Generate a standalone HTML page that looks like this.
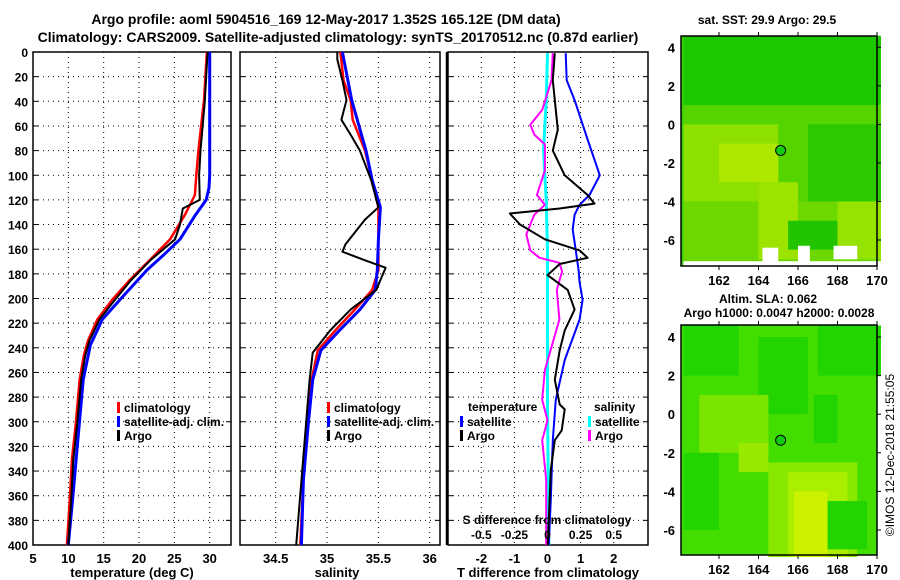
<!DOCTYPE html>
<html><head><meta charset="utf-8"><style>
body{margin:0;background:#fff;}
svg{display:block;font-family:"Liberation Sans",sans-serif;font-weight:bold;}
</style></head><body>
<svg id="c" width="900" height="580" viewBox="0 0 900 580" xmlns="http://www.w3.org/2000/svg">
<text x="326" y="24" font-size="14" text-anchor="middle">Argo profile: aoml 5904516_169 12-May-2017 1.352S 165.12E (DM data)</text>
<text x="338" y="42" font-size="14" text-anchor="middle">Climatology: CARS2009. Satellite-adjusted climatology: synTS_20170512.nc (0.87d earlier)</text>
<g id="p1"></g>
<g id="p2"></g>
<g id="p3"></g>
<g id="m1"></g>
<g id="m2"></g>
<text x="767" y="24" font-size="12" text-anchor="middle">sat. SST: 29.9 Argo: 29.5</text>
<text x="768" y="303" font-size="12" text-anchor="middle">Altim. SLA: 0.062</text>
<text x="779" y="317" font-size="12" text-anchor="middle">Argo h1000: 0.0047 h2000: 0.0028</text>
<text transform="translate(894,455) rotate(-90)" font-size="12" font-weight="normal" text-anchor="middle">©IMOS 12-Dec-2018 21:55:05</text>
</svg>
<script>
// ---- data ----
const depthTicks=[0,20,40,60,80,100,120,140,160,180,200,220,240,260,280,300,320,340,360,380,400];
const tempTicks=[5,10,15,20,25,30];
const salTicks=[34.5,35,35.5,36];
const tdiffTicks=[-2,-1,0,1,2];
const sdiffTicks=[-0.5,-0.25,0,0.25,0.5];
const sdiffTickLabels=["-0.5","-0.25","0","0.25","0.5"];

const climTDepth=[0,39,80,100,116,132,152,169,185,201,217,234,246,266,299,331,363,400];
const climT=[29.6,29.2,28.4,28.1,27.9,26.5,24.4,21.5,18.7,16.2,14.1,12.8,12.2,11.6,11.1,10.5,10.2,9.8];
const satTDepth=[0,60,100,110,120,132,152,165,177,201,217,238,266,299,363,400];
const satT=[30.0,30.0,30.0,29.9,29.5,28.0,25.8,23.4,21.1,17.3,14.8,13.1,12.1,11.6,10.6,10.0];
const argoTDepth=[0,40,80,100,120,127,140,152,169,185,201,217,234,246,266,299,331,363,400];
const argoT=[29.7,29.3,28.7,28.5,28.6,26.2,25.8,25.1,21.6,18.9,16.6,14.4,13.0,12.4,11.8,11.3,10.7,10.4,10.0];

const climSDepth=[0,23,39,55,80,104,126,152,177,193,209,226,242,266,299,347,400];
const climS=[35.13,35.16,35.23,35.25,35.37,35.44,35.50,35.50,35.50,35.44,35.27,35.08,34.91,34.85,34.81,34.77,34.74];
const satSDepth=[0,39,80,104,126,152,177,193,209,226,242,266,299,347,400];
const satS=[35.15,35.24,35.38,35.44,35.52,35.50,35.49,35.47,35.32,35.12,34.94,34.86,34.82,34.77,34.75];
const argoSDepth=[0,6,23,39,55,67,80,104,126,136,156,162,169,175,181,193,209,226,244,266,400];
const argoS=[35.10,35.10,35.15,35.19,35.14,35.23,35.32,35.43,35.50,35.37,35.18,35.15,35.37,35.57,35.54,35.48,35.23,35.03,34.86,34.83,34.70];

const satDTDepth=[1,23,39,71,100,116,124,132,144,160,177,187,201,217,250,282,315,363,400];
const satDT=[0.55,0.58,0.82,1.21,1.58,1.27,0.97,0.82,0.76,0.85,0.94,0.97,1.06,0.97,0.52,0.25,0.16,0.10,0.04];
const argoDTDepth=[1,23,39,63,80,100,116,123,127,131,140,152,161,167,172,181,193,209,226,242,266,286,290,307,315,339,400];
const argoDT=[0.22,0.16,0.22,0.31,0.16,0.52,1.21,1.42,0.37,-1.14,-0.83,-0.08,0.97,1.21,0.37,0.0,0.61,0.82,0.52,0.37,0.22,0.37,0.52,0.43,0.22,0.10,0.01];
const argoDSDepth=[1,23,47,59,67,75,96,116,124,132,148,161,167,171,178,193,217,258,282,299,315,347,400];
const argoDS=[0.04,0.03,-0.04,-0.13,-0.10,-0.02,-0.02,-0.08,-0.02,-0.10,-0.16,-0.13,-0.06,0.09,0.11,0.07,0.09,-0.02,-0.04,0.0,-0.04,-0.01,-0.01];
const satDSDepth=[1,39,80,120,160,201,282,400];
const satDS=[0.0,-0.01,-0.03,-0.01,0.0,0.0,0.0,0.01];

const lonTicks=[162,164,166,168,170];
const latTicks=[4,2,0,-2,-4,-6];

// ---- helpers ----
const NS="http://www.w3.org/2000/svg";
function mk(tag,attrs,parent){const e=document.createElementNS(NS,tag);for(const k in attrs)e.setAttribute(k,attrs[k]);parent.appendChild(e);return e;}
const Y0=52,Y1=545;
const yD=d=>Y0+(d/400)*(Y1-Y0);
function lin(v0,p0,v1,p1){return v=>p0+(v-v0)*(p1-p0)/(v1-v0);}
const xT=lin(5,33,30,209.7);
const xS=lin(34.5,275.7,36,429.7);
const xDT=lin(-2,481.3,2,613.7);
const xDS=lin(-0.5,481.3,0.5,613.7);

function frame(g,x0,x1,xs,labels,showY,name){
  depthTicks.forEach(d=>{if(d>0&&d<400){const l=mk('line',{x1:x0,x2:x1,y1:yD(d),y2:yD(d),stroke:'#000','stroke-dasharray':'1 4','stroke-width':1},g);
  
  
  mk('line',{x1:x0,x2:x0+5,y1:yD(d),y2:yD(d),stroke:'#000'},g);mk('line',{x1:x1-5,x2:x1,y1:yD(d),y2:yD(d),stroke:'#000'},g);}});
  xs.forEach(x=>{if(x>x0+1&&x<x1-1){const l=mk('line',{x1:x,x2:x,y1:Y0,y2:Y1,stroke:'#000','stroke-dasharray':'1 4'},g);
  
  }});
  const r=mk('rect',{x:x0,y:Y0,width:x1-x0,height:Y1-Y0,fill:'none',stroke:'#000','stroke-width':1.5},g);
  
  
  if(labels){xs.forEach((x,i)=>{const t=mk('text',{x:x,y:563,'font-size':13,'text-anchor':'middle'},g);t.textContent=labels[i];
  
  });}
  if(showY){depthTicks.forEach(d=>{const t=mk('text',{x:28,y:yD(d)+5,'font-size':12,'text-anchor':'end'},g);t.textContent=d;
  
  });}
}
function series(g,vals,deps,xf,color,w,name){
  const pts=vals.map((v,i)=>xf(v).toFixed(1)+','+yD(deps[i]).toFixed(1)).join(' ');
  const p=mk('polyline',{points:pts,fill:'none',stroke:color,'stroke-width':w,'stroke-linejoin':'round'},g);
  
  
}
function legend(g,x,y,color,label,name){
  mk('rect',{x:x,y:y-10,width:3,height:11,fill:color},g);
  const t=mk('text',{x:x+7,y:y,'font-size':12},g);t.textContent=label;
  
  
}
function txt(g,x,y,s,anchor,size,name){const t=mk('text',{x:x,y:y,'font-size':size||12,'text-anchor':anchor||'start'},g);t.textContent=s;
  
  return t;}

// panel 1
const p1=document.getElementById('p1');
frame(p1,33,231,tempTicks.map(xT),tempTicks,true,'temperature');
series(p1,climT,climTDepth,xT,'#f00',2.5,'climatology-temperature-line');
series(p1,satT,satTDepth,xT,'#00f',3,'satellite-temperature-line');
series(p1,argoT,argoTDepth,xT,'#000',2,'argo-temperature-line');
legend(p1,117,412,'#f00','climatology','legend-climatology');
legend(p1,117,426,'#00f','satellite-adj. clim.','legend-satellite');
legend(p1,117,440,'#000','Argo','legend-argo');
txt(p1,132,577,'temperature (deg C)','middle',13,'x-axis-title-temperature');

// panel 2
const p2=document.getElementById('p2');
frame(p2,240,440,salTicks.map(xS),salTicks,false,'salinity');
series(p2,climS,climSDepth,xS,'#f00',2.5,'climatology-salinity-line');
series(p2,satS,satSDepth,xS,'#00f',3,'satellite-salinity-line');
series(p2,argoS,argoSDepth,xS,'#000',2,'argo-salinity-line');
legend(p2,327,412,'#f00','climatology','legend-climatology-sal');
legend(p2,327,426,'#00f','satellite-adj. clim.','legend-satellite-sal');
legend(p2,327,440,'#000','Argo','legend-argo-sal');
txt(p2,337,577,'salinity','middle',13,'x-axis-title-salinity');

// panel 3
const p3=document.getElementById('p3');
frame(p3,448,648,tdiffTicks.map(xDT),tdiffTicks,false,'difference');
mk('line',{x1:447,x2:447,y1:Y0,y2:Y1,stroke:'#000','stroke-width':2.5},p3);
series(p3,satDS,satDSDepth,xDS,'#0ff',3,'satellite-salinity-diff-line');
series(p3,argoDS,argoDSDepth,xDS,'#f0f',2,'argo-salinity-diff-line');
series(p3,satDT,satDTDepth,xDT,'#00f',2,'satellite-temperature-diff-line');
series(p3,argoDT,argoDTDepth,xDT,'#000',2,'argo-temperature-diff-line');
txt(p3,468,411,'temperature','start',12,'legend-temperature-heading');
legend(p3,460,426,'#00f','satellite','legend-temp-satellite');
legend(p3,460,440,'#000','Argo','legend-temp-argo');
txt(p3,594,411,'salinity','start',12,'legend-salinity-heading');
legend(p3,588,426,'#0ff','satellite','legend-sal-satellite');
legend(p3,588,440,'#f0f','Argo','legend-sal-argo');
txt(p3,547,524,'S difference from climatology','middle',12,'s-axis-title');
sdiffTicks.forEach((v,i)=>{txt(p3,xDS(v),539,sdiffTickLabels[i],'middle',12,'s-tick-label');});
txt(p3,548,577,'T difference from climatology','middle',13,'x-axis-title-difference');

// maps
function mapFrame(g,x0,y0,x1,y1,lat4,latm6,base,blobs,name){
  const xl=lin(162,719,170,877), yl=lin(4,lat4,-6,latm6);
  mk('rect',{x:x0,y:y0,width:x1-x0,height:y1-y0,fill:base},g);
  blobs.forEach(b=>mk('rect',{x:xl(b[0]),y:yl(b[3]),width:xl(b[1])-xl(b[0]),height:yl(b[2])-yl(b[3]),fill:b[4]},g));
  const r=mk('rect',{x:x0,y:y0,width:x1-x0,height:y1-y0,fill:'none',stroke:'#000','stroke-width':1.5},g);
  
  
  lonTicks.forEach(l=>{mk('line',{x1:xl(l),x2:xl(l),y1:y0-4,y2:y0,stroke:'#000'},g);mk('line',{x1:xl(l),x2:xl(l),y1:y1,y2:y1+4,stroke:'#000'},g);
    txt(g,xl(l),y1+19,String(l),'middle',13,'lon-tick-label');});
  latTicks.forEach(l=>{mk('line',{x1:x1,x2:x1+4,y1:yl(l),y2:yl(l),stroke:'#000'},g);
    txt(g,x0-6,yl(l)+5,String(l),'end',13,'lat-tick-label');});
  const c=mk('circle',{cx:xl(165.12),cy:yl(-1.352),r:5,fill:'#11cc11',stroke:'#000','stroke-width':1},g);
  
  
}
mapFrame(document.getElementById('m1'),681,36,877,266,47.3,240,'#3ccf00',[
 [160.2,170.2,1,4.6,'#1ec800'],[160.2,170.2,-4,1,'#55d400'],[160.2,165,-4,0,'#8ee000'],[162,165,-3,-1,'#aee800'],
 [166.5,170.2,-4,0,'#2cc800'],[160.2,170.2,-7.4,-4,'#6cd800'],[164,166,-7,-3,'#9ce400'],[168,170.2,-7,-4,'#96e200'],
 [165.5,168,-6.5,-5,'#22c400'],
 [164.2,165,-7.4,-6.4,'#fff'],[166,166.6,-7.4,-6.3,'#fff'],[167.8,169,-7,-6.3,'#fff'],[160.2,170.2,-7.4,-7.1,'#fff']
],'sst-map');
mapFrame(document.getElementById('m2'),681,325,877,555,337,530,'#44dd00',[
 [160.2,163,2,4.6,'#22d400'],[164,166.5,0,4,'#22d400'],[167,170.2,2,4.6,'#22d400'],
 [161,164.5,-2,1,'#7ae600'],[164.5,169,-7.4,-2.5,'#88e800'],[165.5,168.5,-7.4,-3,'#aaee00'],[165.8,167.5,-7.4,-4,'#ccf200'],
 [163,164.5,-3,-1.5,'#99ea00'],[160.2,162,-6,-2,'#22d400'],[167.5,169.5,-7,-4.5,'#22d400'],[166.8,168,-1.5,1,'#22d400']
],'sla-map');
</script>
</body></html>
